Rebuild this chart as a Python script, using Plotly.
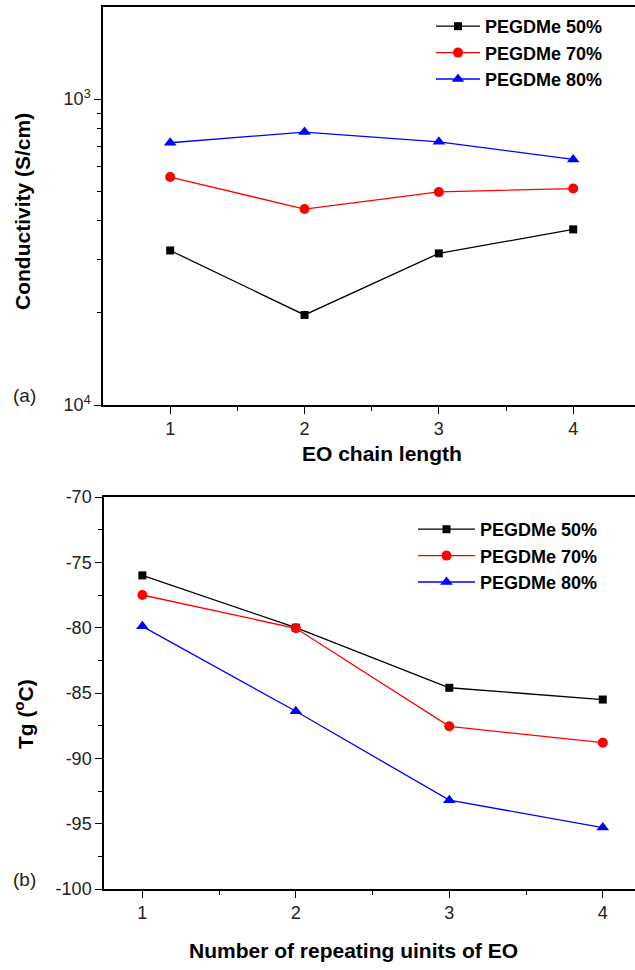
import plotly.graph_objects as go

x_vals = [1, 2, 3, 4]
series_names = ["PEGDMe 50%", "PEGDMe 70%", "PEGDMe 80%"]
colors = ["black", "red", "blue"]
symbols = ["square", "circle", "triangle-up"]
msizes = [8, 10, 11]

cond_50 = [3.2e-4, 1.97e-4, 3.13e-4, 3.75e-4]
cond_70 = [5.56e-4, 4.37e-4, 4.97e-4, 5.1e-4]
cond_80 = [7.2e-4, 7.8e-4, 7.25e-4, 6.35e-4]

tg_50 = [-76.0, -80.0, -84.6, -85.5]
tg_70 = [-77.5, -80.05, -87.55, -88.8]
tg_80 = [-79.9, -86.4, -93.2, -95.3]

top_ytickvals = [1e-4, 1e-3]
top_yticktext = ["10<sup>4</sup>", "10<sup>3</sup>"]
top_minor = [2e-4, 3e-4, 4e-4, 5e-4, 6e-4, 7e-4, 8e-4, 9e-4]
bot_ytickvals = [-100, -95, -90, -85, -80, -75, -70]
bot_yticktext = ["-100", "-95", "-90", "-85", "-80", "-75", "-70"]

W, H = 635, 970
fig = go.Figure()

for name, c, s, ms, ys in zip(series_names, colors, symbols, msizes, [cond_50, cond_70, cond_80]):
    fig.add_trace(go.Scatter(x=x_vals, y=ys, mode="lines+markers", name="<b>" + name + "</b>",
                             line=dict(color=c, width=1.3),
                             marker=dict(symbol=s, size=ms, color=c),
                             xaxis="x", yaxis="y", legend="legend"))
for name, c, s, ms, ys in zip(series_names, colors, symbols, msizes, [tg_50, tg_70, tg_80]):
    fig.add_trace(go.Scatter(x=x_vals, y=ys, mode="lines+markers", name="<b>" + name + "</b>",
                             line=dict(color=c, width=1.3),
                             marker=dict(symbol=s, size=ms, color=c),
                             xaxis="x2", yaxis="y2", legend="legend2"))

tickfont = dict(family="Liberation Sans, Arial", size=18, color="#222")
axis_common = dict(showline=True, linecolor="black", linewidth=1.5, ticks="outside",
                   ticklen=7, tickwidth=1.3, tickcolor="black", showgrid=False,
                   zeroline=False, tickfont=tickfont, automargin=False)

fig.update_layout(
    width=W, height=H, margin=dict(l=0, r=0, t=0, b=0, autoexpand=False),
    paper_bgcolor="white", plot_bgcolor="white",
    xaxis=dict(domain=[103/W, 1.0], anchor="y", range=[0.5, 4.46],
               tickvals=[1, 2, 3, 4], mirror=True,
               minor=dict(tickvals=[1.5, 2.5, 3.5], ticks="outside", ticklen=4,
                          tickcolor="black", tickwidth=1.2, showgrid=False),
               **axis_common),
    yaxis=dict(domain=[1 - 405/H, 1 - 7/H], anchor="x", type="log",
               range=[-4, -2.699], tickvals=top_ytickvals, ticktext=top_yticktext,
               minor=dict(tickmode="array", tickvals=top_minor, ticks="outside", ticklen=4,
                          tickcolor="black", tickwidth=1.2, showgrid=False),
               **axis_common),
    xaxis2=dict(domain=[104/W, 1.0], anchor="y2", range=[0.75, 4.21],
                tickvals=[1, 2, 3, 4], mirror=True,
                minor=dict(tickvals=[1.5, 2.5, 3.5], ticks="outside", ticklen=4,
                           tickcolor="black", tickwidth=1.2, showgrid=False),
                **axis_common),
    yaxis2=dict(domain=[1 - 889/H, 1 - 497/H], anchor="x2", range=[-100, -70],
                tickvals=bot_ytickvals, ticktext=bot_yticktext,
                minor=dict(tickmode="array",
                           tickvals=[-97.5, -92.5, -87.5, -82.5, -77.5, -72.5],
                           ticks="outside", ticklen=4, tickcolor="black",
                           tickwidth=1.2, showgrid=False),
                **axis_common),
    legend=dict(x=431/W, y=1 - 8/H, xanchor="left", yanchor="top",
                bgcolor="rgba(0,0,0,0)", tracegroupgap=0,
                font=dict(family="Liberation Sans, Arial", size=18, color="black"),
                itemwidth=44),
    legend2=dict(x=413/W, y=1 - 511/H, xanchor="left", yanchor="top",
                 bgcolor="rgba(0,0,0,0)", tracegroupgap=0,
                 font=dict(family="Liberation Sans, Arial", size=18, color="black"),
                 itemwidth=57),
    showlegend=True,
)

title_font = dict(family="Liberation Sans, Arial", size=21, color="black")
ann = [
    dict(text="<b>EO chain length</b>", x=382/W, y=1 - 453/H),
    dict(text="<b>Number of repeating uinits of EO</b>", x=353/W, y=1 - 950/H),
    dict(text="<b>Conductivity (S/cm)</b>", x=22/W, y=1 - 212/H, textangle=-90),
    dict(text="<b>Tg (<sup>o</sup>C)</b>", x=24/W, y=1 - 714/H, textangle=-90),
]
for a in ann:
    fig.add_annotation(xref="paper", yref="paper", showarrow=False, font=title_font,
                       xanchor="center", yanchor="middle", **a)
for t, xx, yy in [("(a)", 24, 395), ("(b)", 24, 879)]:
    fig.add_annotation(xref="paper", yref="paper", showarrow=False, text=t,
                       x=xx/W, y=1 - yy/H, xanchor="center", yanchor="middle",
                       font=dict(family="Liberation Sans, Arial", size=19, color="#222"))

fig.write_html("out.html", config={"displayModeBar": False},
               post_script="document.body.style.margin='0';document.body.style.overflow='hidden';")
